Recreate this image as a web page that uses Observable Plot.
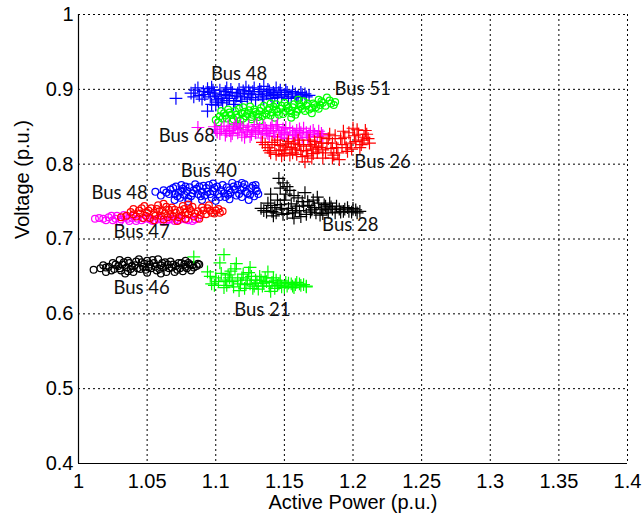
<!DOCTYPE html>
<html>
<head>
<meta charset="utf-8">
<script src="https://cdn.jsdelivr.net/npm/d3@7"></script>
<script src="https://cdn.jsdelivr.net/npm/@observablehq/plot@0.6"></script>
<style>
  html, body { margin: 0; padding: 0; background: #fff; }
  #chart { width: 642px; height: 522px; }
</style>
</head>
<body>
<div id="chart"></div>
<script>
// ---- Data (Active Power p.u., Voltage p.u.) ----
const bus48Plus = [[1.082,0.895],[1.085,0.899],[1.088,0.892],[1.091,0.897],[1.094,0.901],[1.096,0.890],[1.099,0.895],[1.101,0.886],[1.103,0.899],[1.106,0.893],[1.108,0.902],[1.110,0.888],[1.112,0.896],[1.115,0.891],[1.117,0.900],[1.119,0.884],[1.121,0.894],[1.124,0.898],[1.126,0.889],[1.128,0.902],[1.131,0.893],[1.133,0.897],[1.135,0.887],[1.138,0.900],[1.140,0.892],[1.142,0.896],[1.145,0.889],[1.147,0.899],[1.150,0.893],[1.152,0.896],[1.155,0.890],[1.158,0.894],[1.160,0.891],[1.163,0.893],[1.166,0.890],[1.100,0.879],[1.105,0.882],[1.113,0.880],[1.094,0.871],[1.071,0.888],[1.097,0.903],[1.122,0.903],[1.135,0.904],[1.144,0.902],
  [1.084,0.890],[1.087,0.902],[1.090,0.887],[1.092,0.893],[1.095,0.896],[1.098,0.899],[1.100,0.891],[1.104,0.888],[1.107,0.897],[1.109,0.892],[1.111,0.900],[1.114,0.885],[1.116,0.895],[1.118,0.890],[1.120,0.898],[1.123,0.887],[1.125,0.894],[1.127,0.897],[1.129,0.886],[1.132,0.900],[1.134,0.890],[1.137,0.894],[1.139,0.898],[1.141,0.888],[1.143,0.893],[1.146,0.896],[1.148,0.891],[1.151,0.899],[1.153,0.888],[1.156,0.897],[1.159,0.889],[1.162,0.896],[1.165,0.894],[1.168,0.892],[1.102,0.883],[1.108,0.885],[1.097,0.880]];
const bus51Circle = [[1.100,0.859],[1.103,0.864],[1.106,0.868],[1.108,0.861],[1.111,0.866],[1.114,0.871],[1.116,0.862],[1.118,0.852],[1.119,0.868],[1.122,0.864],[1.124,0.872],[1.127,0.866],[1.129,0.870],[1.131,0.863],[1.133,0.875],[1.136,0.868],[1.138,0.872],[1.140,0.865],[1.142,0.877],[1.145,0.870],[1.147,0.874],[1.149,0.867],[1.152,0.878],[1.154,0.872],[1.156,0.876],[1.159,0.870],[1.161,0.880],[1.163,0.874],[1.166,0.878],[1.168,0.873],[1.171,0.881],[1.173,0.876],[1.176,0.879],[1.178,0.882],[1.181,0.889],[1.184,0.881],[1.187,0.883],[1.112,0.857],[1.126,0.860],[1.143,0.862],[1.158,0.866],[1.109,0.873],[1.125,0.877],[1.150,0.882],
  [1.102,0.856],[1.105,0.861],[1.107,0.865],[1.110,0.869],[1.113,0.860],[1.115,0.866],[1.117,0.874],[1.120,0.861],[1.121,0.870],[1.123,0.867],[1.126,0.863],[1.128,0.873],[1.130,0.867],[1.132,0.871],[1.134,0.864],[1.135,0.878],[1.137,0.866],[1.139,0.875],[1.141,0.869],[1.144,0.873],[1.146,0.866],[1.148,0.878],[1.151,0.871],[1.153,0.875],[1.155,0.868],[1.157,0.880],[1.160,0.873],[1.162,0.877],[1.165,0.871],[1.167,0.881],[1.170,0.875],[1.172,0.879],[1.175,0.874],[1.177,0.884],[1.180,0.878],[1.183,0.885],[1.186,0.879],[1.164,0.884],[1.144,0.880],[1.118,0.858],
  [1.104,0.871],[1.120,0.876],[1.132,0.858],[1.140,0.881],[1.155,0.862],[1.170,0.868],[1.175,0.886],[1.160,0.886]];
const bus68Plus = [[1.087,0.849],[1.100,0.846],[1.103,0.841],[1.106,0.850],[1.108,0.844],[1.111,0.838],[1.113,0.848],[1.116,0.842],[1.118,0.852],[1.121,0.836],[1.123,0.846],[1.126,0.840],[1.128,0.850],[1.131,0.844],[1.133,0.835],[1.136,0.848],[1.138,0.841],[1.141,0.852],[1.143,0.837],[1.146,0.845],[1.148,0.840],[1.151,0.849],[1.153,0.834],[1.156,0.843],[1.158,0.838],[1.161,0.847],[1.163,0.836],[1.166,0.842],[1.168,0.839],[1.171,0.845],[1.174,0.837],[1.177,0.841],[1.115,0.854],[1.130,0.853],[1.145,0.853],
  [1.099,0.850],[1.101,0.843],[1.104,0.847],[1.107,0.839],[1.109,0.851],[1.110,0.845],[1.112,0.841],[1.114,0.850],[1.117,0.846],[1.119,0.839],[1.120,0.849],[1.122,0.843],[1.124,0.851],[1.125,0.837],[1.127,0.845],[1.129,0.842],[1.132,0.848],[1.134,0.840],[1.135,0.851],[1.137,0.845],[1.139,0.838],[1.140,0.848],[1.142,0.843],[1.144,0.850],[1.147,0.836],[1.149,0.847],[1.150,0.842],[1.152,0.839],[1.154,0.848],[1.157,0.840],[1.159,0.845],[1.160,0.835],[1.162,0.842],[1.164,0.848],[1.167,0.836],[1.169,0.843],[1.172,0.840],[1.175,0.844],[1.178,0.838]];
const bus26Plus = [[1.134,0.829],[1.138,0.822],[1.140,0.815],[1.143,0.826],[1.146,0.818],[1.148,0.811],[1.151,0.823],[1.153,0.830],[1.156,0.815],[1.158,0.820],[1.161,0.826],[1.163,0.810],[1.165,0.803],[1.166,0.818],[1.168,0.832],[1.171,0.814],[1.173,0.824],[1.176,0.836],[1.178,0.819],[1.181,0.828],[1.183,0.840],[1.186,0.812],[1.188,0.822],[1.191,0.834],[1.193,0.844],[1.196,0.817],[1.198,0.828],[1.201,0.838],[1.203,0.846],[1.205,0.822],[1.207,0.832],[1.210,0.840],[1.212,0.828],[1.200,0.848],[1.190,0.806],[1.178,0.808],[1.160,0.832],[1.145,0.832],
  [1.136,0.826],[1.139,0.818],[1.141,0.829],[1.144,0.813],[1.147,0.825],[1.149,0.819],[1.150,0.814],[1.152,0.827],[1.154,0.812],[1.155,0.822],[1.157,0.828],[1.159,0.813],[1.162,0.818],[1.164,0.824],[1.167,0.811],[1.169,0.826],[1.170,0.820],[1.172,0.830],[1.174,0.816],[1.175,0.822],[1.177,0.828],[1.180,0.815],[1.182,0.834],[1.184,0.821],[1.185,0.828],[1.187,0.838],[1.189,0.815],[1.192,0.826],[1.194,0.836],[1.195,0.822],[1.197,0.842],[1.199,0.820],[1.202,0.830],[1.204,0.840],[1.206,0.826],[1.208,0.836],[1.209,0.845],[1.211,0.834],[1.185,0.808],[1.170,0.808]];
const bus40Circle = [[1.056,0.763],[1.062,0.765],[1.066,0.760],[1.069,0.768],[1.072,0.757],[1.075,0.764],[1.078,0.770],[1.080,0.754],[1.083,0.761],[1.086,0.767],[1.089,0.757],[1.091,0.771],[1.094,0.763],[1.097,0.755],[1.099,0.768],[1.102,0.760],[1.105,0.772],[1.107,0.756],[1.110,0.765],[1.113,0.770],[1.115,0.758],[1.118,0.766],[1.121,0.773],[1.123,0.761],[1.126,0.768],[1.128,0.757],[1.130,0.764],[1.070,0.752],[1.100,0.751],[1.124,0.752],[1.085,0.773],[1.112,0.775],
  [1.064,0.762],[1.067,0.766],[1.070,0.760],[1.071,0.770],[1.073,0.762],[1.074,0.755],[1.076,0.767],[1.077,0.759],[1.079,0.764],[1.081,0.769],[1.082,0.757],[1.084,0.765],[1.087,0.760],[1.088,0.770],[1.090,0.763],[1.092,0.758],[1.093,0.768],[1.095,0.772],[1.096,0.760],[1.098,0.764],[1.101,0.770],[1.103,0.756],[1.104,0.765],[1.106,0.761],[1.108,0.769],[1.109,0.759],[1.111,0.762],[1.114,0.766],[1.116,0.772],[1.117,0.760],[1.119,0.756],[1.120,0.769],[1.122,0.763],[1.125,0.759],[1.127,0.771],[1.129,0.767],[1.131,0.760],
  [1.060,0.758],[1.075,0.772],[1.090,0.752],[1.098,0.774],[1.110,0.753],[1.119,0.775],[1.129,0.772],[1.080,0.750]];
const bus48Circle = [[1.012,0.727],[1.018,0.727],[1.022,0.729],[1.025,0.725],[1.028,0.731],[1.031,0.726],[1.034,0.729],[1.037,0.724],[1.040,0.731],[1.043,0.727],[1.046,0.725],[1.050,0.729],[1.054,0.724],[1.058,0.727],[1.062,0.723],[1.066,0.726],[1.070,0.724],[1.075,0.727],[1.080,0.725],[1.085,0.726],[1.087,0.728],
  [1.015,0.728],[1.020,0.725],[1.024,0.731],[1.027,0.727],[1.030,0.723],[1.033,0.732],[1.036,0.727],[1.039,0.728],[1.042,0.724],[1.048,0.727],[1.052,0.726],[1.056,0.725],[1.060,0.726],[1.064,0.724],[1.068,0.727],[1.073,0.725],[1.078,0.726],[1.083,0.724]];
const bus47Circle = [[1.031,0.729],[1.040,0.733],[1.044,0.738],[1.047,0.728],[1.050,0.735],[1.053,0.741],[1.056,0.731],[1.059,0.737],[1.062,0.726],[1.064,0.743],[1.067,0.733],[1.070,0.739],[1.073,0.729],[1.076,0.744],[1.078,0.735],[1.081,0.740],[1.084,0.730],[1.087,0.737],[1.090,0.742],[1.093,0.733],[1.096,0.738],[1.099,0.734],[1.102,0.740],[1.105,0.737],[1.058,0.745],[1.072,0.724],[1.088,0.727],
  [1.035,0.731],[1.038,0.736],[1.042,0.730],[1.045,0.734],[1.046,0.741],[1.049,0.731],[1.051,0.738],[1.052,0.728],[1.055,0.735],[1.057,0.740],[1.060,0.731],[1.061,0.738],[1.063,0.734],[1.065,0.729],[1.066,0.739],[1.068,0.742],[1.069,0.730],[1.071,0.735],[1.074,0.738],[1.075,0.731],[1.077,0.740],[1.080,0.733],[1.082,0.737],[1.083,0.743],[1.085,0.734],[1.089,0.732],[1.091,0.738],[1.094,0.741],[1.097,0.735],[1.100,0.738],[1.103,0.735],
  [1.040,0.740],[1.048,0.744],[1.062,0.747],[1.080,0.746],[1.095,0.745],[1.055,0.725],[1.078,0.727]];
const bus28Plus = [[1.133,0.741],[1.137,0.736],[1.140,0.745],[1.142,0.731],[1.145,0.752],[1.146,0.781],[1.148,0.740],[1.149,0.775],[1.151,0.760],[1.152,0.734],[1.154,0.765],[1.155,0.747],[1.158,0.738],[1.160,0.755],[1.162,0.730],[1.164,0.744],[1.167,0.750],[1.169,0.736],[1.172,0.742],[1.174,0.756],[1.176,0.732],[1.179,0.746],[1.181,0.739],[1.184,0.743],[1.187,0.735],[1.190,0.740],[1.193,0.737],[1.196,0.742],[1.199,0.736],[1.202,0.739],[1.205,0.737],[1.157,0.728],[1.140,0.760],[1.165,0.762],
  [1.135,0.738],[1.138,0.748],[1.141,0.737],[1.143,0.742],[1.144,0.735],[1.147,0.746],[1.149,0.733],[1.150,0.752],[1.153,0.741],[1.156,0.735],[1.157,0.758],[1.159,0.744],[1.161,0.738],[1.163,0.750],[1.166,0.733],[1.168,0.745],[1.170,0.739],[1.171,0.752],[1.173,0.735],[1.175,0.748],[1.177,0.740],[1.178,0.734],[1.180,0.744],[1.182,0.736],[1.183,0.748],[1.185,0.740],[1.188,0.744],[1.191,0.736],[1.194,0.740],[1.197,0.737],[1.200,0.741],[1.203,0.735],[1.147,0.768],[1.152,0.770]];
const bus46Circle = [[1.011,0.659],[1.020,0.662],[1.024,0.658],[1.027,0.666],[1.030,0.661],[1.033,0.669],[1.036,0.657],[1.039,0.664],[1.042,0.670],[1.045,0.660],[1.048,0.667],[1.051,0.662],[1.054,0.672],[1.057,0.658],[1.060,0.665],[1.063,0.669],[1.066,0.661],[1.069,0.666],[1.072,0.659],[1.075,0.668],[1.078,0.663],[1.081,0.666],[1.084,0.662],[1.087,0.667],[1.050,0.655],[1.070,0.656],[1.044,0.673],
  [1.016,0.661],[1.018,0.665],[1.022,0.663],[1.025,0.668],[1.026,0.660],[1.029,0.664],[1.031,0.658],[1.032,0.666],[1.035,0.662],[1.037,0.668],[1.038,0.660],[1.041,0.665],[1.043,0.661],[1.046,0.669],[1.047,0.663],[1.049,0.659],[1.052,0.666],[1.053,0.661],[1.055,0.668],[1.056,0.663],[1.059,0.660],[1.061,0.668],[1.062,0.662],[1.065,0.666],[1.067,0.670],[1.068,0.662],[1.071,0.664],[1.073,0.668],[1.074,0.661],[1.077,0.666],[1.079,0.661],[1.080,0.668],[1.083,0.665],[1.086,0.664],[1.088,0.666],
  [1.020,0.656],[1.030,0.672],[1.040,0.656],[1.058,0.673],[1.064,0.656],[1.078,0.671],[1.082,0.658],[1.034,0.654],[1.060,0.654],[1.076,0.657],[1.050,0.671],[1.036,0.671]];
const bus21Plus = [[1.084,0.676],[1.094,0.656],[1.097,0.640],[1.100,0.648],[1.103,0.668],[1.106,0.679],[1.106,0.635],[1.109,0.652],[1.112,0.643],[1.114,0.660],[1.117,0.631],[1.119,0.648],[1.122,0.639],[1.124,0.655],[1.127,0.634],[1.129,0.645],[1.132,0.650],[1.134,0.637],[1.137,0.643],[1.140,0.630],[1.142,0.648],[1.145,0.638],[1.147,0.644],[1.150,0.635],[1.153,0.641],[1.156,0.637],[1.159,0.642],[1.162,0.638],[1.166,0.637],[1.115,0.667],[1.125,0.662],[1.138,0.656],
  [1.096,0.650],[1.099,0.638],[1.102,0.643],[1.104,0.654],[1.107,0.645],[1.108,0.638],[1.110,0.648],[1.111,0.657],[1.113,0.636],[1.116,0.645],[1.118,0.640],[1.120,0.653],[1.121,0.634],[1.123,0.645],[1.125,0.640],[1.126,0.650],[1.128,0.637],[1.130,0.641],[1.131,0.633],[1.133,0.645],[1.135,0.641],[1.136,0.648],[1.139,0.637],[1.141,0.642],[1.143,0.634],[1.144,0.645],[1.146,0.640],[1.148,0.636],[1.151,0.642],[1.152,0.637],[1.155,0.640],[1.157,0.635],[1.158,0.639],[1.161,0.640],[1.164,0.639],[1.166,0.636]];

// annotation labels: [text, power, voltage]
const busLabels = [["Bus 48",1.117,0.921],["Bus 51",1.207,0.901],["Bus 68",1.079,0.837],["Bus 26",1.2215,0.803],["Bus 40",1.095,0.791],["Bus 48",1.030,0.761],["Bus 28",1.198,0.719],["Bus 47",1.046,0.709],["Bus 46",1.046,0.635],["Bus 21",1.134,0.605]];

const xTicks = [1, 1.05, 1.1, 1.15, 1.2, 1.25, 1.3, 1.35, 1.4];
const yTicks = [0.4, 0.5, 0.6, 0.7, 0.8, 0.9, 1];
const xLabel = "Active Power (p.u.)";
const yLabel = "Voltage (p.u.)";

// drawing order (later on top)
const series = [
  {data: bus48Plus, symbol: "plus", color: "#0000ff"},
  {data: bus51Circle, symbol: "circle", color: "#00ff00"},
  {data: bus68Plus, symbol: "plus", color: "#ff00ff"},
  {data: bus26Plus, symbol: "plus", color: "#ff0000"},
  {data: bus40Circle, symbol: "circle", color: "#0000ff"},
  {data: bus48Circle, symbol: "circle", color: "#ff00ff"},
  {data: bus47Circle, symbol: "circle", color: "#ff0000"},
  {data: bus28Plus, symbol: "plus", color: "#000000"},
  {data: bus46Circle, symbol: "circle", color: "#000000"},
  {data: bus21Plus, symbol: "plus", color: "#00ff00"}
];

const fmt = d => String(+d.toFixed(2));

const marks = [
  Plot.ruleX(xTicks, {stroke: "#000", strokeWidth: 1, strokeDasharray: "2,3"}),
  Plot.ruleY(yTicks, {stroke: "#000", strokeWidth: 1, strokeDasharray: "2,3"}),
  ...series.map(s => Plot.dot(s.data, {
    x: d => d[0], y: d => d[1],
    symbol: s.symbol, stroke: s.color, fill: "none",
    r: s.symbol === "plus" ? 4.2 : 3.4, strokeWidth: s.symbol === "plus" ? 1.2 : 1.2
  })),
  Plot.ruleX([xTicks[0]], {stroke: "#000", strokeWidth: 1.2}),
  Plot.ruleY([yTicks[0]], {stroke: "#000", strokeWidth: 1.2}),
  Plot.axisX(xTicks, {tickSize: 0, tickPadding: 10, tickFormat: fmt, label: null, fontSize: 20}),
  Plot.axisY(yTicks, {tickSize: 0, tickPadding: 5, tickFormat: fmt, label: null, fontSize: 20}),
  Plot.text(busLabels, {x: d => d[1], y: d => d[2], text: d => d[0],
    fontFamily: "Lato, 'Open Sans', sans-serif", fontSize: 18.5, fill: "#111"}),
  Plot.text([xLabel], {frameAnchor: "bottom", dy: 45, fontSize: 20}),
  Plot.text([yLabel], {frameAnchor: "left", dx: -56, rotate: -90, fontSize: 20})
];

const chart = Plot.plot({
  width: 642, height: 522,
  marginLeft: 78, marginRight: 15, marginTop: 14, marginBottom: 59,
  x: {domain: [1, 1.4]},
  y: {domain: [0.4, 1]},
  style: {fontFamily: "'Liberation Sans', Arial, sans-serif", fontSize: "20px", color: "#000", background: "#fff"},
  marks
});
document.getElementById("chart").appendChild(chart);
</script>
</body>
</html>
